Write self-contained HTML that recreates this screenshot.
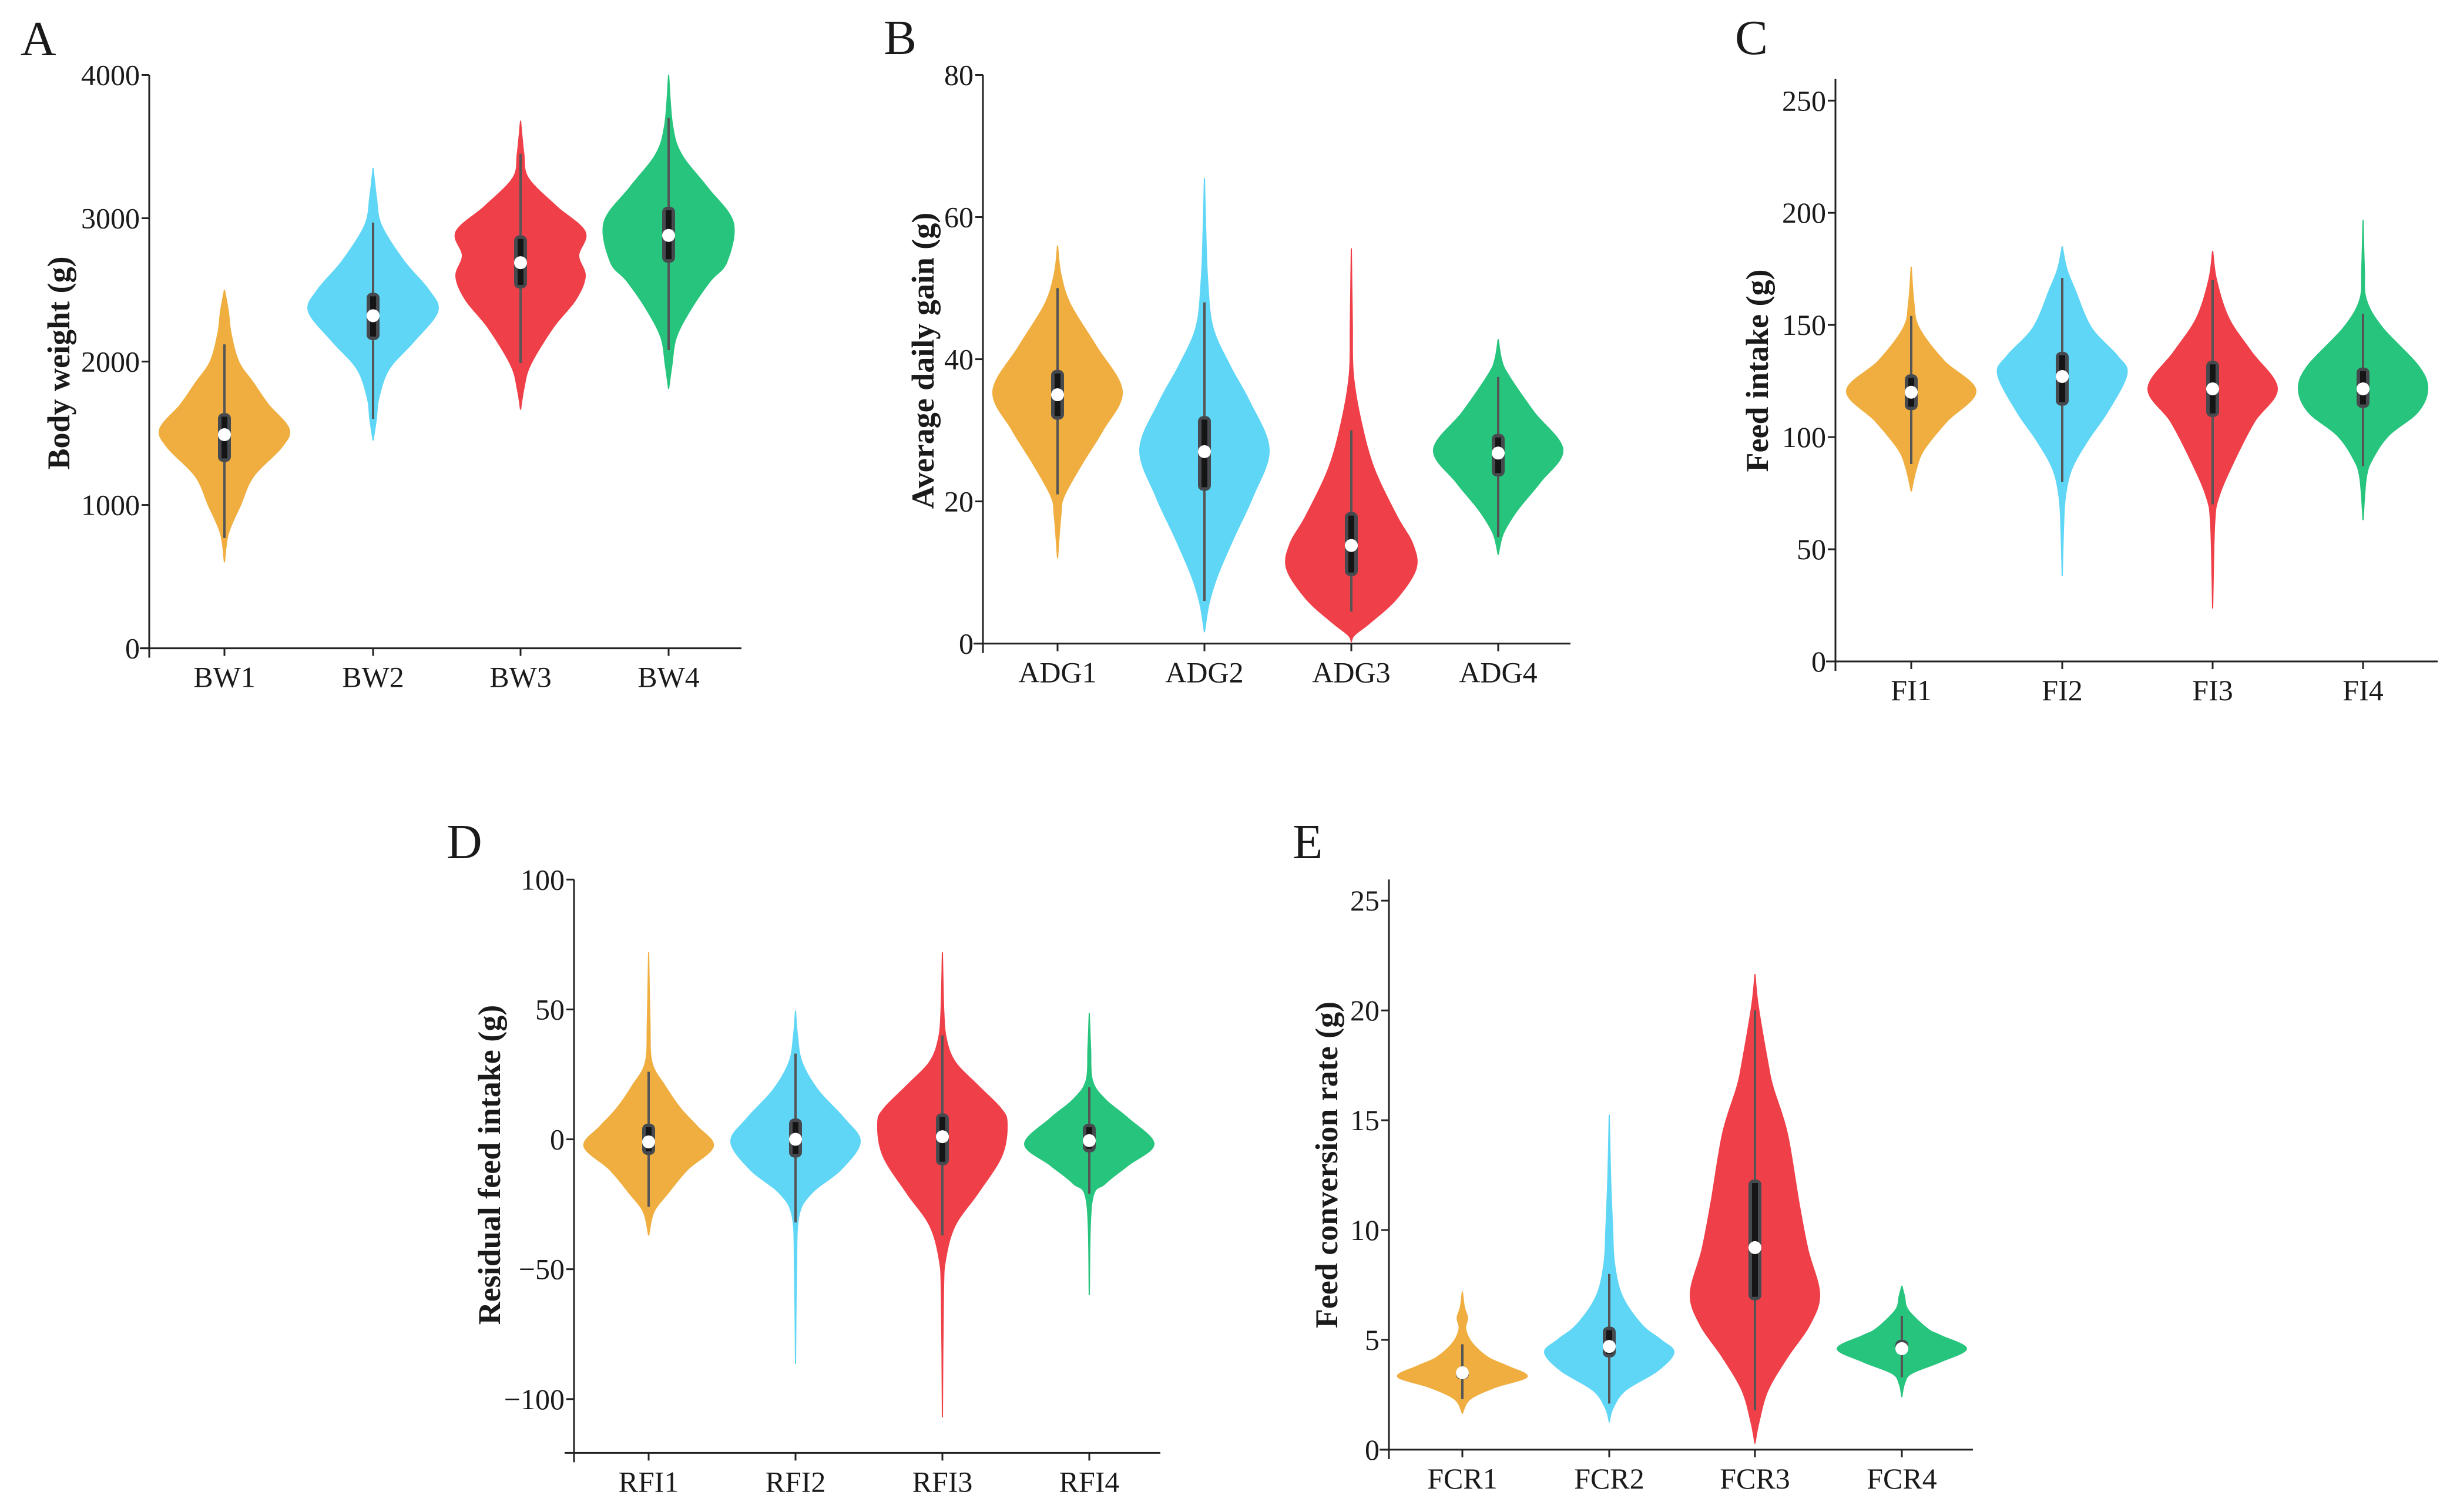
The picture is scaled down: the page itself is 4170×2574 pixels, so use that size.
<!DOCTYPE html>
<html><head><meta charset="utf-8"><title>Violin plots</title>
<style>
html,body{margin:0;padding:0;background:#fff;}
svg{display:block;}
text{font-family:"Liberation Serif",serif;fill:#1a1a1a;}
</style></head>
<body>
<svg id="fig" width="4170" height="2574" viewBox="0 0 4170 2574" xmlns="http://www.w3.org/2000/svg"></svg>
<script>
// ---- Panel A: Body weight ----
const catsA = ["BW1","BW2","BW3","BW4"];
const ticksA = [0,1000,2000,3000,4000];
const profA1 = [[600,0],[800,0.06],[1000,0.25],[1200,0.45],[1400,0.88],[1530,1.0],[1700,0.68],[1850,0.45],[2000,0.22],[2200,0.1],[2350,0.06],[2500,0]];
const profA2 = [[1450,0],[1600,0.05],[1750,0.09],[1950,0.25],[2140,0.63],[2350,1.0],[2500,0.86],[2700,0.48],[2950,0.13],[3150,0.05],[3350,0]];
const profA3 = [[1665,0],[1810,0.05],[1975,0.15],[2235,0.5],[2430,0.85],[2595,1.0],[2740,0.9],[2905,1.0],[3085,0.55],[3280,0.12],[3450,0.05],[3680,0]];
const profA4 = [[1810,0],[1975,0.05],[2170,0.12],[2370,0.35],[2565,0.65],[2695,0.9],[2970,1.0],[3215,0.6],[3445,0.2],[3650,0.06],[4000,0]];
const boxA = [[770,1300,1490,1640,2120],[1600,2150,2320,2480,2970],[1990,2510,2690,2880,3450],[2080,2690,2880,3080,3700]];

// ---- Panel B: Average daily gain ----
const catsB = ["ADG1","ADG2","ADG3","ADG4"];
const ticksB = [0,20,40,60,80];
const profB1 = [[12,0],[18,0.05],[20.7,0.1],[25.3,0.38],[30,0.7],[35.5,1.0],[41.8,0.6],[47.7,0.2],[52,0.05],[56,0]];
const profB2 = [[1.6,0],[5.6,0.07],[9.5,0.2],[14.8,0.45],[20.7,0.75],[27.3,1.0],[34,0.7],[39,0.4],[44.5,0.13],[51,0.05],[58,0.02],[65.5,0]];
const profB3 = [[0.3,0],[1.2,0.05],[3,0.3],[6.3,0.7],[10.5,1.0],[14,0.95],[18,0.7],[24.7,0.35],[31.3,0.15],[37.9,0.03],[45,0.015],[55.6,0]];
const profB4 = [[12.5,0],[15.5,0.08],[18.8,0.3],[22.7,0.65],[27.3,1.0],[32.6,0.55],[37.9,0.15],[40,0.05],[42.8,0]];
const boxB = [[21,31.5,35,38.5,50],[6,21.5,27,32,48],[4.5,9.5,13.8,18.5,30],[15,23.5,26.8,29.5,37.5]];

// ---- Panel C: Feed intake ----
const catsC = ["FI1","FI2","FI3","FI4"];
const ticksC = [0,50,100,150,200,250];
const profC1 = [[75.8,0],[86,0.08],[94.5,0.2],[107,0.55],[120.6,1.0],[134.2,0.5],[148.8,0.12],[160,0.04],[176,0]];
const profC2 = [[38,0],[60,0.02],[73.7,0.05],[86,0.15],[98.7,0.4],[111.2,0.7],[128,1.0],[136.3,0.85],[148.8,0.45],[165.5,0.2],[175,0.07],[185,0]];
const profC3 = [[23.6,0],[61,0.03],[73.7,0.1],[90.4,0.35],[107,0.65],[121.7,1.0],[138,0.6],[153,0.25],[170,0.06],[183,0]];
const profC4 = [[63,0],[82,0.05],[90.4,0.15],[100.8,0.4],[111.2,0.85],[121.7,1.0],[132,0.85],[148.8,0.3],[161.3,0.05],[175,0.02],[196.8,0]];
const boxC = [[88,112,120,128,154],[80,114,127,138,171],[70,109,121.5,134,170],[87,113,121.5,131,155]];

// ---- Panel D: Residual feed intake ----
const catsD = ["RFI1","RFI2","RFI3","RFI4"];
const ticksD = [-100,-50,0,50,100];
const profD1 = [[-37,0],[-28,0.08],[-20.7,0.3],[-11.7,0.6],[-2.7,1.0],[5,0.75],[11.7,0.5],[20.7,0.25],[29.7,0.05],[45,0.02],[72,0]];
const profD2 = [[-86.5,0],[-50,0.015],[-29.7,0.05],[-20.7,0.25],[-11.7,0.7],[-1,1.0],[8.1,0.75],[18.9,0.35],[29.7,0.1],[40,0.03],[49.5,0]];
const profD3 = [[-107,0],[-60,0.015],[-46,0.05],[-33,0.2],[-20.7,0.55],[-6.3,0.92],[6.3,1.0],[12,0.9],[20.7,0.55],[29.7,0.2],[38.7,0.06],[50,0.02],[72,0]];
const profD4 = [[-60,0],[-24.3,0.04],[-17,0.25],[-10,0.6],[-1.8,1.0],[8.1,0.6],[15.3,0.25],[22.5,0.05],[35,0.02],[48.6,0]];
const boxD = [[-26,-6,-1,6,26],[-32,-7,0,8,33],[-37,-10,1,10,40],[-21,-5,-0.5,6,20]];

// ---- Panel E: Feed conversion rate ----
const catsE = ["FCR1","FCR2","FCR3","FCR4"];
const ticksE = [0,5,10,15,20,25];
const profE1 = [[1.66,0],[2.3,0.12],[2.83,0.5],[3.32,1.0],[3.8,0.7],[4.2,0.4],[4.86,0.15],[5.5,0.05],[6.0,0.08],[6.5,0.03],[7.2,0]];
const profE2 = [[1.28,0],[1.9,0.06],[2.7,0.25],[3.6,0.75],[4.43,1.0],[5.0,0.8],[5.7,0.5],[7.0,0.2],[8.5,0.08],[10.2,0.05],[12.5,0.02],[15.26,0]];
const profE3 = [[0.28,0],[1.24,0.06],[2.7,0.2],[4.2,0.5],[5.7,0.85],[7.1,1.0],[9.1,0.82],[11.25,0.68],[14.4,0.5],[16.5,0.28],[17.6,0.2],[20.2,0.05],[21.65,0]];
const profE4 = [[2.4,0],[3.0,0.04],[3.47,0.15],[4.0,0.6],[4.6,1.0],[5.2,0.6],[5.5,0.4],[6.35,0.1],[7.0,0.04],[7.46,0]];
const boxE = [[2.3,3.2,3.5,3.75,4.8],[2.1,4.2,4.7,5.6,8],[1.8,6.8,9.2,12.3,20],[3.3,4.4,4.6,5.0,6.1]];

const colors = ["#EFAE3F","#5FD6F6","#EF4049","#27C47D"];
const NS = "http://www.w3.org/2000/svg";
const svg = document.getElementById("fig");
function mk(tag, attrs, parent){ const e=document.createElementNS(NS,tag); for(const k in attrs) e.setAttribute(k,attrs[k]); (parent||svg).appendChild(e); return e; }

// layout (pixel geometry)
const panels = [
 {id:"a",letter:"A",lx:35,ly:94,title:"Body weight (g)",tx:100,ty:618,axX:254,yTop:127.5,vTop:4000,yBot:1103.6,vBot:0,xAxY:1103.6,xEnd:1262,catX:[382,635,886,1138],cats:catsA,ticks:ticksA,profs:[profA1,profA2,profA3,profA4],box:boxA},
 {id:"b",letter:"B",lx:1504,ly:92,title:"Average daily gain (g)",tx:1571,ty:614,axX:1673,yTop:127.5,vTop:80,yBot:1095.6,vBot:0,xAxY:1095.6,xEnd:2673,catX:[1800,2050,2300,2550],cats:catsB,ticks:ticksB,profs:[profB1,profB2,profB3,profB4],box:boxB},
 {id:"c",letter:"C",lx:2953,ly:92,title:"Feed intake (g)",tx:2991,ty:631,axX:3124,yTop:171.3,vTop:250,yBot:1126,vBot:0,axStart:134,xAxY:1126,xEnd:4149,catX:[3253,3510,3766,4022],cats:catsC,ticks:ticksC,profs:[profC1,profC2,profC3,profC4],box:boxC},
 {id:"d",letter:"D",lx:760,ly:1461,title:"Residual feed intake (g)",tx:833,ty:1983,axX:977,yTop:1497.3,vTop:100,yBot:2381.8,vBot:-100,xAxY:2473.4,xEnd:1975,catX:[1104,1354,1604,1854],cats:catsD,ticks:ticksD,profs:[profD1,profD2,profD3,profD4],box:boxD},
 {id:"e",letter:"E",lx:2200,ly:1461,title:"Feed conversion rate (g)",tx:2258,ty:1983,axX:2364,yTop:1533.2,vTop:25,yBot:2467.9,vBot:0,axStart:1497.3,xAxY:2467.9,xEnd:3358,catX:[2489,2739,2987,3237],cats:catsE,ticks:ticksE,profs:[profE1,profE2,profE3,profE4],box:boxE}
];
const HW = 110;

function smoothPath(pts){
  let d = "M"+pts[0][0].toFixed(1)+","+pts[0][1].toFixed(1);
  for(let i=0;i<pts.length-1;i++){
    const p0=pts[Math.max(0,i-1)], p1=pts[i], p2=pts[i+1], p3=pts[Math.min(pts.length-1,i+2)];
    const c1=[p1[0]+(p2[0]-p0[0])/6, p1[1]+(p2[1]-p0[1])/6];
    const c2=[p2[0]-(p3[0]-p1[0])/6, p2[1]-(p3[1]-p1[1])/6];
    d+=" C"+c1[0].toFixed(1)+","+c1[1].toFixed(1)+" "+c2[0].toFixed(1)+","+c2[1].toFixed(1)+" "+p2[0].toFixed(1)+","+p2[1].toFixed(1);
  }
  return d;
}

panels.forEach(P=>{
  const yS = v => P.yBot + (v - P.vBot) * (P.yTop - P.yBot) / (P.vTop - P.vBot);
  const g = mk("g",{});
  
  

  const letter = mk("text",{x:P.lx,y:P.ly,"font-size":84},g);
  letter.textContent = P.letter;
  
  

  const top = P.axStart !== undefined ? P.axStart : P.yTop;
  const yAx = mk("line",{x1:P.axX,y1:top,x2:P.axX,y2:P.xAxY+16,stroke:"#222","stroke-width":3},g);
  
  
  const xAx = mk("line",{x1:P.axX-16,y1:P.xAxY,x2:P.xEnd,y2:P.xAxY,stroke:"#222","stroke-width":3},g);
  
  

  P.ticks.forEach(t=>{
    const y=yS(t);
    const tk = mk("line",{x1:P.axX-13,y1:y,x2:P.axX,y2:y,stroke:"#222","stroke-width":3},g);
    
    
    const tl = mk("text",{x:P.axX-16,y:y+17,"font-size":50,"text-anchor":"end"},g);
    tl.textContent = t<0 ? "\u2212"+Math.abs(t) : String(t);
    
    
  });

  const tt = mk("text",{x:P.tx,y:P.ty,"font-size":54,"font-weight":"bold","text-anchor":"middle",transform:"rotate(-90 "+P.tx+" "+P.ty+")"},g);
  tt.setAttribute('dominant-baseline','central');
  tt.textContent = P.title;
  
  

  P.cats.forEach((c,i)=>{
    const cx = P.catX[i];
    const xt = mk("line",{x1:cx,y1:P.xAxY,x2:cx,y2:P.xAxY+13,stroke:"#222","stroke-width":3},g);
    
    
    const xl = mk("text",{x:cx,y:P.xAxY+66,"font-size":50,"text-anchor":"middle"},g);
    xl.textContent = c;
    
    

    const prof = P.profs[i];
    const right = prof.map(p=>[cx + p[1]*HW, yS(p[0])]);
    const left = prof.slice().reverse().map(p=>[cx - p[1]*HW, yS(p[0])]);
    const d = smoothPath(right) + " L" + smoothPath(left).slice(1) + " Z";
    const v = mk("path",{d:d,fill:colors[i],stroke:colors[i],"stroke-width":2},g);
    
    

    const b = P.box[i];
    const wl = mk("line",{x1:cx,y1:yS(b[0]),x2:cx,y2:yS(b[4]),stroke:"#555","stroke-width":4},g);
    
    
    const bh = yS(b[1]) - yS(b[3]);
    const br = mk("rect",{x:cx-11,y:yS(b[3]),width:22,height:bh,rx:9,fill:"#464a4f"},g);
    
    
    const bi = mk("rect",{x:cx-5,y:yS(b[3])+6,width:10,height:Math.max(0,bh-12),fill:"#151515"},g);
    
    
    const md = mk("circle",{cx:cx,cy:yS(b[2]),r:11,fill:"#fff"},g);
    
    
  });
});
</script>
</body></html>
